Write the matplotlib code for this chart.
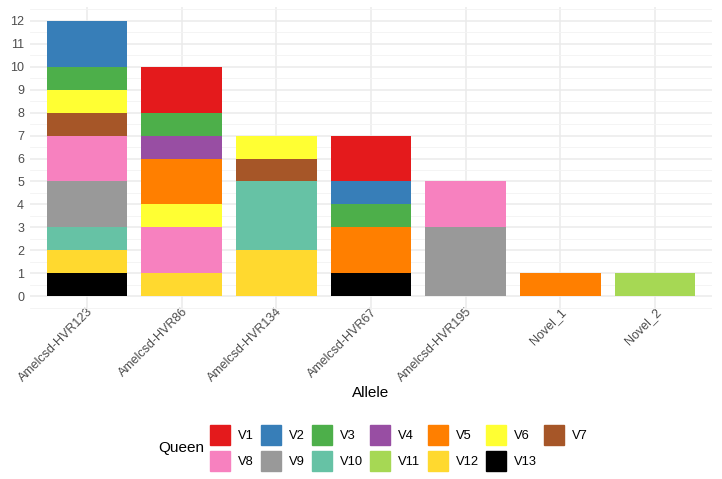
import matplotlib.pyplot as plt
from matplotlib.patches import Patch
from matplotlib.ticker import MultipleLocator

plt.rcParams["font.family"] = ["Liberation Sans", "DejaVu Sans"]

ALLELES = [
    "Amelcsd-HVR123",
    "Amelcsd-HVR86",
    "Amelcsd-HVR134",
    "Amelcsd-HVR67",
    "Amelcsd-HVR195",
    "Novel_1",
    "Novel_2",
]

QUEENS = ["V1", "V2", "V3", "V4", "V5", "V6", "V7",
          "V8", "V9", "V10", "V11", "V12", "V13"]

# counts of each queen per allele (same order as ALLELES)
V1 = [0, 2, 0, 2, 0, 0, 0]
V2 = [2, 0, 0, 1, 0, 0, 0]
V3 = [1, 1, 0, 1, 0, 0, 0]
V4 = [0, 1, 0, 0, 0, 0, 0]
V5 = [0, 2, 0, 2, 0, 1, 0]
V6 = [1, 1, 1, 0, 0, 0, 0]
V7 = [1, 0, 1, 0, 0, 0, 0]
V8 = [2, 2, 0, 0, 2, 0, 0]
V9 = [2, 0, 0, 0, 3, 0, 0]
V10 = [1, 0, 3, 0, 0, 0, 0]
V11 = [0, 0, 0, 0, 0, 0, 1]
V12 = [1, 1, 2, 0, 0, 0, 0]
V13 = [1, 0, 0, 1, 0, 0, 0]

COUNTS = [V1, V2, V3, V4, V5, V6, V7, V8, V9, V10, V11, V12, V13]

QUEEN_COLORS = [
    "#E41A1C", "#377EB8", "#4DAF4A", "#984EA3", "#FF7F00", "#FFFF33",
    "#A65628", "#F781BF", "#999999", "#66C2A5", "#A6D854", "#FFD92F",
    "#000000",
]

fig = plt.figure(figsize=(7.22, 4.79), dpi=100)
ax = fig.add_axes([30 / 722, 1 - 310 / 479, 682 / 722, 303 / 479])

x = list(range(1, len(ALLELES) + 1))
bottom = [0] * len(ALLELES)

# ggplot stacks the last level at the bottom
for i in reversed(range(len(QUEENS))):
    ax.bar(
        x,
        COUNTS[i],
        bottom=bottom,
        width=0.85,
        color=QUEEN_COLORS[i],
        linewidth=0,
        zorder=2,
    )
    bottom = [b + c for b, c in zip(bottom, COUNTS[i])]

ax.set_xlim(0.4, 7.6)
ax.set_ylim(-0.6, 12.6)

ax.yaxis.set_major_locator(MultipleLocator(1))
ax.yaxis.set_minor_locator(MultipleLocator(0.5))
ax.set_xticks(x)
ax.set_xticklabels(ALLELES, rotation=45, ha="right", rotation_mode="anchor")

ax.grid(which="major", color="#EBEBEB", linewidth=1.1, zorder=0)
ax.grid(which="minor", axis="y", color="#F3F3F3", linewidth=0.6, zorder=0)

ax.tick_params(axis="both", which="both", length=0, labelsize=9,
               labelcolor="#4D4D4D")
ax.tick_params(axis="y", pad=4.3)
ax.tick_params(axis="x", pad=-3)

for spine in ax.spines.values():
    spine.set_visible(False)

ax.set_xlabel("Allele", fontsize=11)
ax.xaxis.set_label_coords(371 / 722, 1 - 393 / 479, transform=fig.transFigure)
ax.xaxis.label.set_va("center")

# legend: row-wise order, matplotlib fills column-wise
handles = [Patch(color=c, label=q) for q, c in zip(QUEENS, QUEEN_COLORS)]
order = []
for col in range(7):
    order.append(col)
    if col + 7 < len(QUEENS):
        order.append(col + 7)

fig.legend(
    handles=[handles[i] for i in order],
    loc="center left",
    bbox_to_anchor=(210 / 722, 1 - 448 / 479),
    ncol=7,
    frameon=False,
    fontsize=9.3,
    handlelength=1.55,
    handleheight=2.0,
    handletextpad=0.62,
    columnspacing=0.55,
    labelspacing=0.5,
    borderaxespad=0,
    borderpad=0,
)

fig.text(158 / 722, 1 - 448 / 479, "Queen", fontsize=11,
         ha="left", va="center")

fig.savefig("out.png", dpi=100)
